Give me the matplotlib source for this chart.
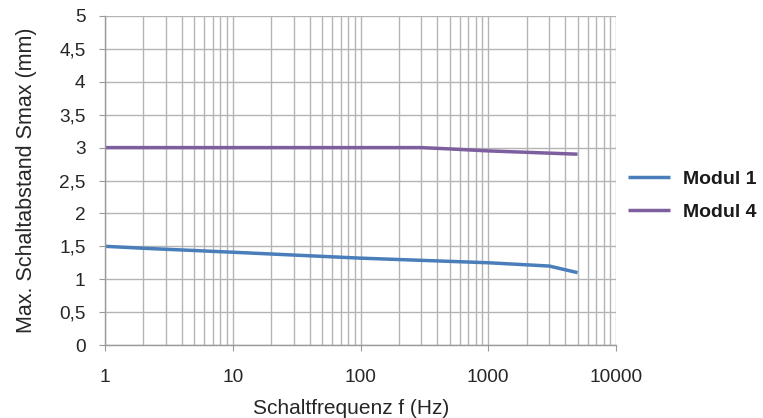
import matplotlib
matplotlib.use("Agg")
import matplotlib.pyplot as plt
from matplotlib.ticker import LogLocator, FixedLocator, FuncFormatter, NullFormatter

plt.rcParams['font.family'] = ['Liberation Sans', 'DejaVu Sans']

freq_m1 = [1, 2, 10, 100, 1000, 3000, 5000]
smax_m1 = [1.5, 1.47, 1.41, 1.32, 1.25, 1.2, 1.1]
freq_m4 = [1, 10, 100, 300, 500, 1000, 5000]
smax_m4 = [3.0, 3.0, 3.0, 3.0, 2.98, 2.95, 2.9]
series_labels = ["Modul 1", "Modul 4"]
y_ticks = [0, 0.5, 1, 1.5, 2, 2.5, 3, 3.5, 4, 4.5, 5]
x_ticks = [1, 10, 100, 1000, 10000]

fig = plt.figure(figsize=(7.63, 4.18), dpi=100)
ax = fig.add_axes([105/763, 73/418, (616-105)/763, (345-16)/418])

ax.plot(freq_m1, smax_m1, color='#4a7ebb', lw=2.5, label=series_labels[0], solid_capstyle='butt')
ax.plot(freq_m4, smax_m4, color='#7d5fa0', lw=2.5, label=series_labels[1], solid_capstyle='butt')

ax.set_xscale('log')
ax.set_xlim(1, 10000)
ax.set_ylim(0, 5)
ax.xaxis.set_major_locator(FixedLocator(x_ticks))
ax.xaxis.set_minor_locator(LogLocator(base=10, subs=range(2, 10)))
ax.xaxis.set_major_formatter(FuncFormatter(lambda v, p: f"{int(v)}"))
ax.xaxis.set_minor_formatter(NullFormatter())
ax.yaxis.set_major_locator(FixedLocator(y_ticks))
ax.yaxis.set_major_formatter(FuncFormatter(lambda v, p: (f"{v:g}").replace('.', ',')))

gc = '#b4b4b4'
ax.grid(True, which='major', color=gc, lw=1.0)
ax.grid(True, which='minor', axis='x', color=gc, lw=1.0)
ax.set_axisbelow(True)
for s in ['top', 'right']:
    ax.spines[s].set_visible(False)
for s in ['left', 'bottom']:
    ax.spines[s].set_color('#9a9a9a')
    ax.spines[s].set_linewidth(1.0)

ax.tick_params(axis='both', which='major', length=4, color='#9a9a9a', labelsize=13.7, labelcolor='#262626')
ax.tick_params(axis='x', which='major', pad=13)
ax.tick_params(axis='y', which='major', pad=10)
ax.tick_params(axis='x', which='minor', length=0)

ax.set_xlabel("Schaltfrequenz f (Hz)", fontsize=15, color='#262626', labelpad=10)
ax.xaxis.label.set_x((351 - 105) / 511)
ax.set_ylabel("Max. Schaltabstand Smax (mm)", fontsize=15.5, color='#262626', labelpad=16)

leg = ax.legend(loc='center left', bbox_to_anchor=((628-105)/511, (345-195.5)/329), frameon=False,
                prop={'weight': 'bold', 'size': 14}, handlelength=2.16, labelspacing=0.81,
                handletextpad=0.67, borderpad=0, borderaxespad=0)
for t in leg.get_texts():
    t.set_color('#1a1a1a')

fig.savefig('out.png', dpi=100)
